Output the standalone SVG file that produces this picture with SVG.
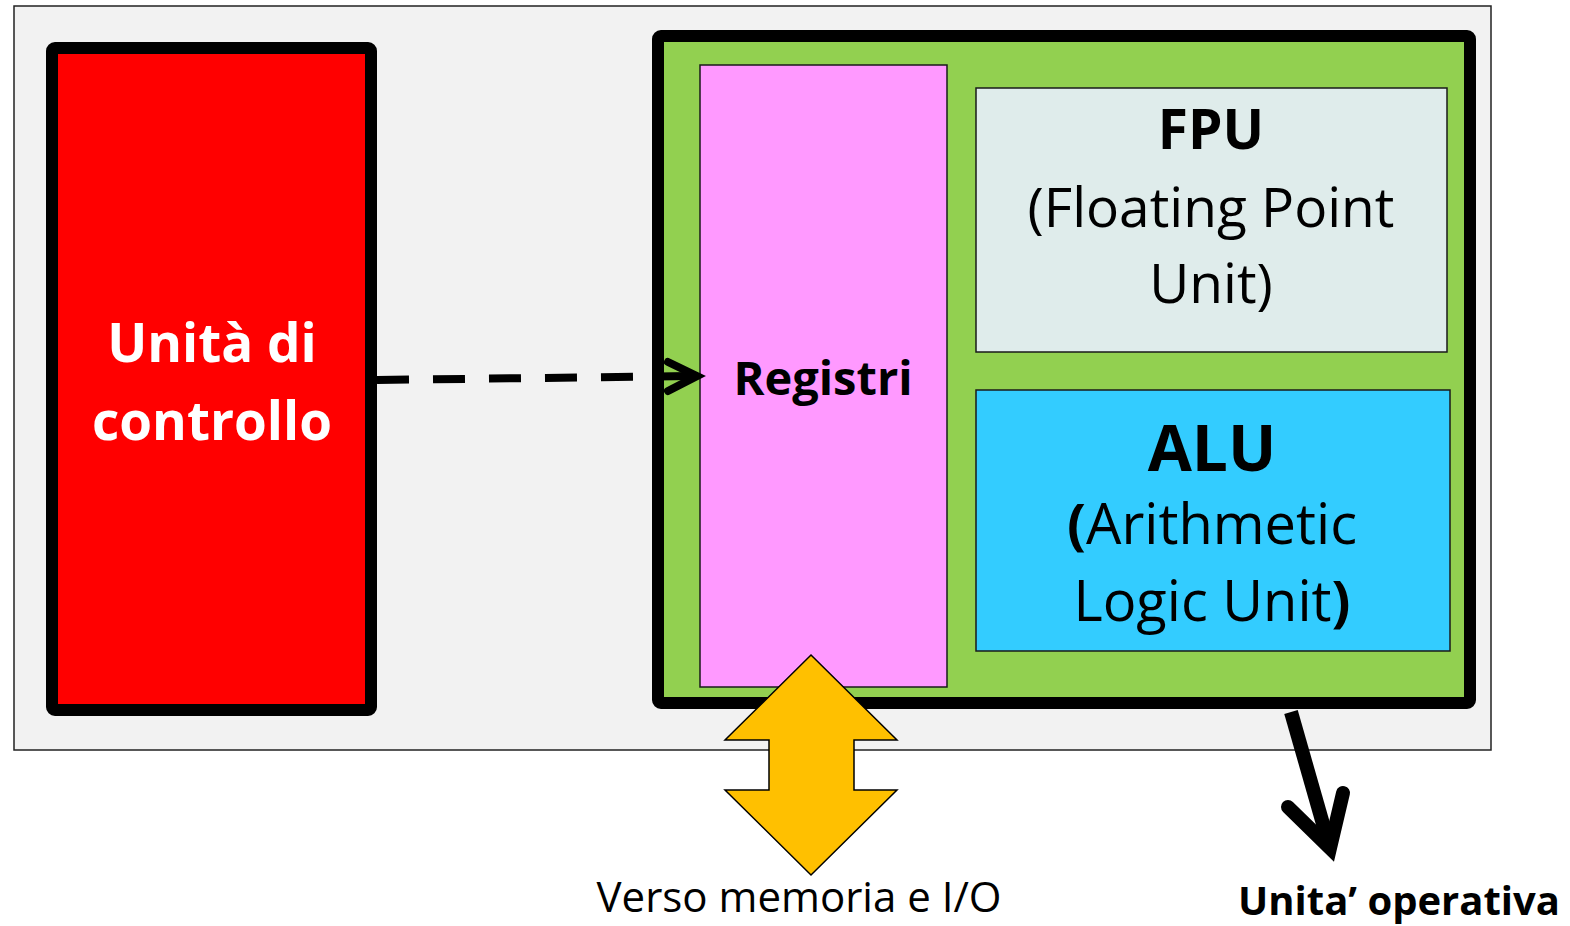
<svg xmlns="http://www.w3.org/2000/svg" width="1570" height="926" viewBox="0 0 1570 926">
<style>
text{font-family:"Open Sans","Noto Sans","Liberation Sans",sans-serif;text-anchor:middle}
.b{font-weight:bold}
.thin{stroke:#1a1a1a;stroke-width:1.5}
</style>
<rect x="0" y="0" width="1570" height="926" fill="#ffffff"/>
<g id="frame"><rect x="14" y="6" width="1477" height="744" fill="#f2f2f2" stroke="#222" stroke-width="1.5"/></g>
<g id="controllo">
<rect x="52" y="48" width="319" height="662" rx="3" fill="#ff0000" stroke="#000" stroke-width="12"/>
<text class="b" x="212" y="362" font-size="53" fill="#fff">Unità di</text>
<text class="b" x="212" y="440" font-size="53" fill="#fff">controllo</text>
</g>
<g id="operativa">
<rect x="658" y="36" width="812" height="667" rx="3" fill="#92d050" stroke="#000" stroke-width="12"/>
</g>
<g id="registri">
<rect x="700" y="65" width="247" height="622" fill="#ff99ff" class="thin"/>
<text class="b" x="823" y="395" font-size="47" fill="#000">Registri</text>
</g>
<g id="fpu">
<rect x="976" y="88" width="471" height="264" fill="#dfeceb" class="thin"/>
<text class="b" x="1211" y="149" font-size="55">FPU</text>
<text x="1211" y="227" font-size="55">(Floating Point</text>
<text x="1211" y="303" font-size="55">Unit)</text>
</g>
<g id="alu">
<rect x="976" y="390" width="474" height="261" fill="#33ccff" class="thin"/>
<text class="b" x="1212" y="471" font-size="64">ALU</text>
<text x="1212" y="544" font-size="56"><tspan class="b">(</tspan>Arithmetic</text>
<text x="1212" y="621" font-size="56">Logic Unit<tspan class="b">)</tspan></text>
</g>
<g id="connectors">
<line x1="377" y1="380" x2="696" y2="376" stroke="#000" stroke-width="8" stroke-dasharray="32 24"/>
<polyline points="668,362 697,376 668,391" fill="none" stroke="#000" stroke-width="8" stroke-linecap="round" stroke-linejoin="miter"/>
<polygon points="811,655 897,740 854,740 854,790 897,790 811,875 725,790 769,790 769,740 725,740" fill="#ffc000" stroke="#000" stroke-width="1.5"/>
<line x1="1291" y1="712" x2="1329" y2="845" stroke="#000" stroke-width="14"/>
<polyline points="1288,807 1330,848 1343,793" fill="none" stroke="#000" stroke-width="14" stroke-linecap="round" stroke-linejoin="miter"/>
</g>
<g id="labels">
<text x="799" y="912" font-size="42" fill="#000">Verso memoria e I/O</text>
<text class="b" x="1399" y="915" font-size="40" fill="#000">Unita’ operativa</text>
</g>
</svg>
